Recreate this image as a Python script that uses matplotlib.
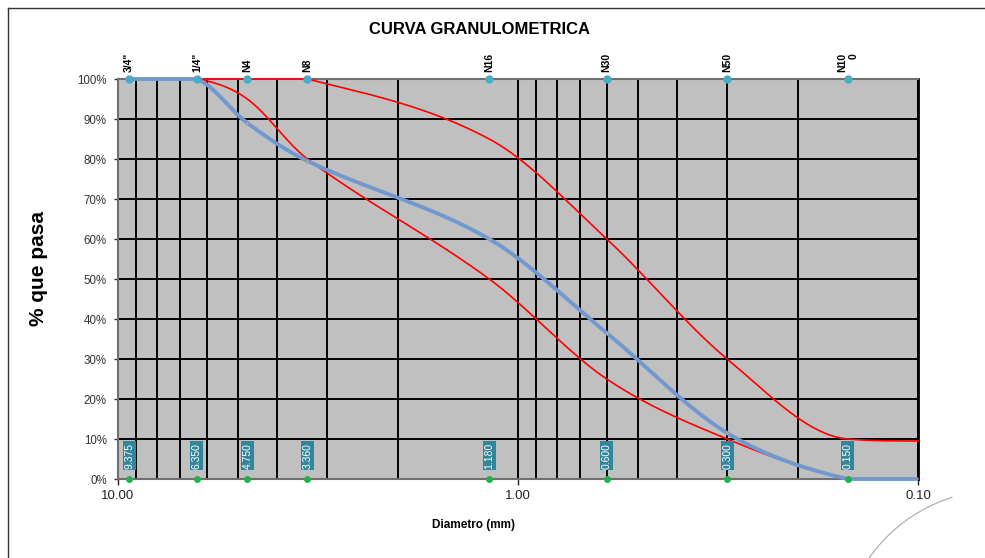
import numpy as np
import matplotlib.pyplot as plt
from matplotlib.ticker import FixedLocator, LogLocator, FuncFormatter, NullFormatter
from matplotlib.lines import Line2D
from matplotlib.patches import Arc

# ============================================================
# data
# ============================================================

sieve_names = ['3/4"', '1/4"', 'N4', 'N8', 'N16', 'N30', 'N50', 'N10\n0']
sieve_mm = [9.375, 6.350, 4.750, 3.360, 1.180, 0.600, 0.300, 0.150]

# curva del ensayo (% que pasa)
muestra_mm = [9.375, 6.350, 4.750, 3.360, 1.180, 0.600, 0.300, 0.150, 0.100]
muestra_pct = [100, 100, 89, 79.5, 60, 36.5, 11.5, 0, 0]

# limites del huso
sup_mm = [9.375, 6.350, 4.750, 3.360, 1.180, 0.600, 0.300, 0.150, 0.100]
sup_pct = [100, 100, 100, 100, 85, 60, 30, 10, 9.5]
inf_mm = [9.375, 6.350, 4.750, 3.360, 1.180, 0.600, 0.300, 0.150, 0.100]
inf_pct = [100, 100, 95, 80, 50, 25, 10, 0, 0]

y_ticks = [0, 10, 20, 30, 40, 50, 60, 70, 80, 90, 100]


# ============================================================
# suavizado (Hermite con limitador, recortado a 0-100 %)
# ============================================================

def smooth_curve(d, p, n=40):
    x = -np.log10(np.asarray(d, float)) * 100
    y = np.asarray(p, float)
    h = np.diff(x)
    delta = np.diff(y) / h
    m = np.zeros_like(y)
    m[0], m[-1] = delta[0], delta[-1]
    for k in range(1, len(y) - 1):
        if delta[k - 1] * delta[k] < 0:
            m[k] = 0.0
        else:
            m[k] = (y[k + 1] - y[k - 1]) / (x[k + 1] - x[k - 1])
    for k in range(len(delta)):
        if delta[k] == 0:
            continue
        a, b = m[k] / delta[k], m[k + 1] / delta[k]
        s = a * a + b * b
        if s > 9:
            tau = 3 / np.sqrt(s)
            m[k], m[k + 1] = tau * a * delta[k], tau * b * delta[k]
    xs, ys = [], []
    t = np.linspace(0, 1, n)
    for k in range(len(h)):
        h00 = 2 * t**3 - 3 * t**2 + 1
        h10 = t**3 - 2 * t**2 + t
        h01 = -2 * t**3 + 3 * t**2
        h11 = t**3 - t**2
        yy = h00 * y[k] + h10 * h[k] * m[k] + h01 * y[k + 1] + h11 * h[k] * m[k + 1]
        xx = x[k] + t * h[k]
        if k > 0:
            xx, yy = xx[1:], yy[1:]
        xs.append(xx)
        ys.append(yy)
    xs = np.concatenate(xs)
    ys = np.clip(np.concatenate(ys), 0, 100)
    return 10 ** (-xs / 100), ys


# ============================================================
# figura
# ============================================================

plt.rcParams['font.family'] = ['Liberation Sans', 'DejaVu Sans']

fig = plt.figure(figsize=(9.85, 5.58), dpi=100)
ax = fig.add_axes([118 / 985, 1 - 479 / 558, 800 / 985, 400 / 558])
ax.set_facecolor('#C0C0C0')

ax.set_xscale('log')
ax.set_xlim(10, 0.1)
ax.set_ylim(0, 100)

ax.xaxis.set_major_locator(FixedLocator([10, 1, 0.1]))
ax.xaxis.set_major_formatter(FuncFormatter(lambda v, _: f'{v:.2f}'))
ax.xaxis.set_minor_locator(LogLocator(base=10, subs=np.arange(2, 10)))
ax.xaxis.set_minor_formatter(NullFormatter())
ax.set_yticks(y_ticks)
ax.set_yticklabels([f'{v}%' for v in y_ticks])

ax.grid(which='both', axis='x', color='black', linewidth=1.4)
ax.grid(which='major', axis='y', color='black', linewidth=1.4)
ax.set_axisbelow(True)

ax.tick_params(axis='x', which='major', length=4, width=1, labelsize=9.5,
               pad=4, colors='#222222')
ax.tick_params(axis='x', which='minor', length=0)
ax.tick_params(axis='y', length=3, width=1, labelsize=8.3, pad=5,
               colors='#333333')

for side in ['left', 'top', 'bottom']:
    ax.spines[side].set_color('#707070')
    ax.spines[side].set_linewidth(1.5)
ax.spines['right'].set_color('black')
ax.spines['right'].set_linewidth(2)

# limites
xs, ys = smooth_curve(sup_mm, sup_pct)
ax.plot(xs, ys, color='#FF0000', linewidth=1.2, zorder=3, clip_on=False)
xs, ys = smooth_curve(inf_mm, inf_pct)
ax.plot(xs, ys, color='#FF0000', linewidth=1.2, zorder=3, clip_on=False)

# curva del ensayo
xs, ys = smooth_curve(muestra_mm, muestra_pct)
ax.plot(xs, ys, color='#7199D0', linewidth=2.8, zorder=4, clip_on=False,
        solid_capstyle='butt')
ax.plot(muestra_mm[:-1], muestra_pct[:-1], linestyle='none', marker='o',
        markersize=2.2, markerfacecolor='#D8B83A', markeredgecolor='#7199D0',
        markeredgewidth=0.5, zorder=5, clip_on=False)

# marcas de tamices
ax.plot(sieve_mm, [100] * len(sieve_mm), linestyle='none', marker='o',
        markersize=5, color='#4BACC6', zorder=6, clip_on=False)
ax.plot(sieve_mm, [0] * len(sieve_mm), linestyle='none', marker='o',
        markersize=4, color='#22B14C', zorder=6, clip_on=False)

for d, name in zip(sieve_mm, sieve_names):
    ax.annotate(name, (d, 100), xytext=(0, 5), textcoords='offset points',
                rotation=90, ha='center', va='bottom', fontsize=7.5,
                fontweight='bold', multialignment='right', annotation_clip=False)
    ax.text(d, 5.8, f'{d:.3f}', rotation=90, ha='center', va='center',
            fontsize=7.5, color='white', zorder=7,
            bbox=dict(boxstyle='square,pad=0.15', facecolor='#31869B',
                      edgecolor='none'))

fig.text(0.487, 1 - 30 / 558, 'CURVA GRANULOMETRICA', fontsize=12,
         fontweight='bold', ha='center', va='center')
ax.set_xlabel('Diametro (mm)', fontsize=8.5, fontweight='bold')
ax.xaxis.set_label_coords(0.445, -0.1)
ax.set_ylabel('% que pasa', fontsize=15, fontweight='bold')
ax.yaxis.set_label_coords(-0.088, 0.525)

# marco exterior
fig.add_artist(Line2D([8 / 985, 1], [1 - 8 / 558, 1 - 8 / 558],
                      transform=fig.transFigure, color='#333333', linewidth=1))
fig.add_artist(Line2D([8 / 985, 8 / 985], [0, 1 - 8 / 558],
                      transform=fig.transFigure, color='#333333', linewidth=1))
arc = Arc((1000 / 985, (558 - 650) / 558), 320 / 985, 320 / 558, angle=0,
          theta1=100, theta2=146, transform=fig.transFigure, color='#A8A8B8',
          linewidth=0.8)
fig.add_artist(arc)

fig.savefig('out.png', dpi=100)
